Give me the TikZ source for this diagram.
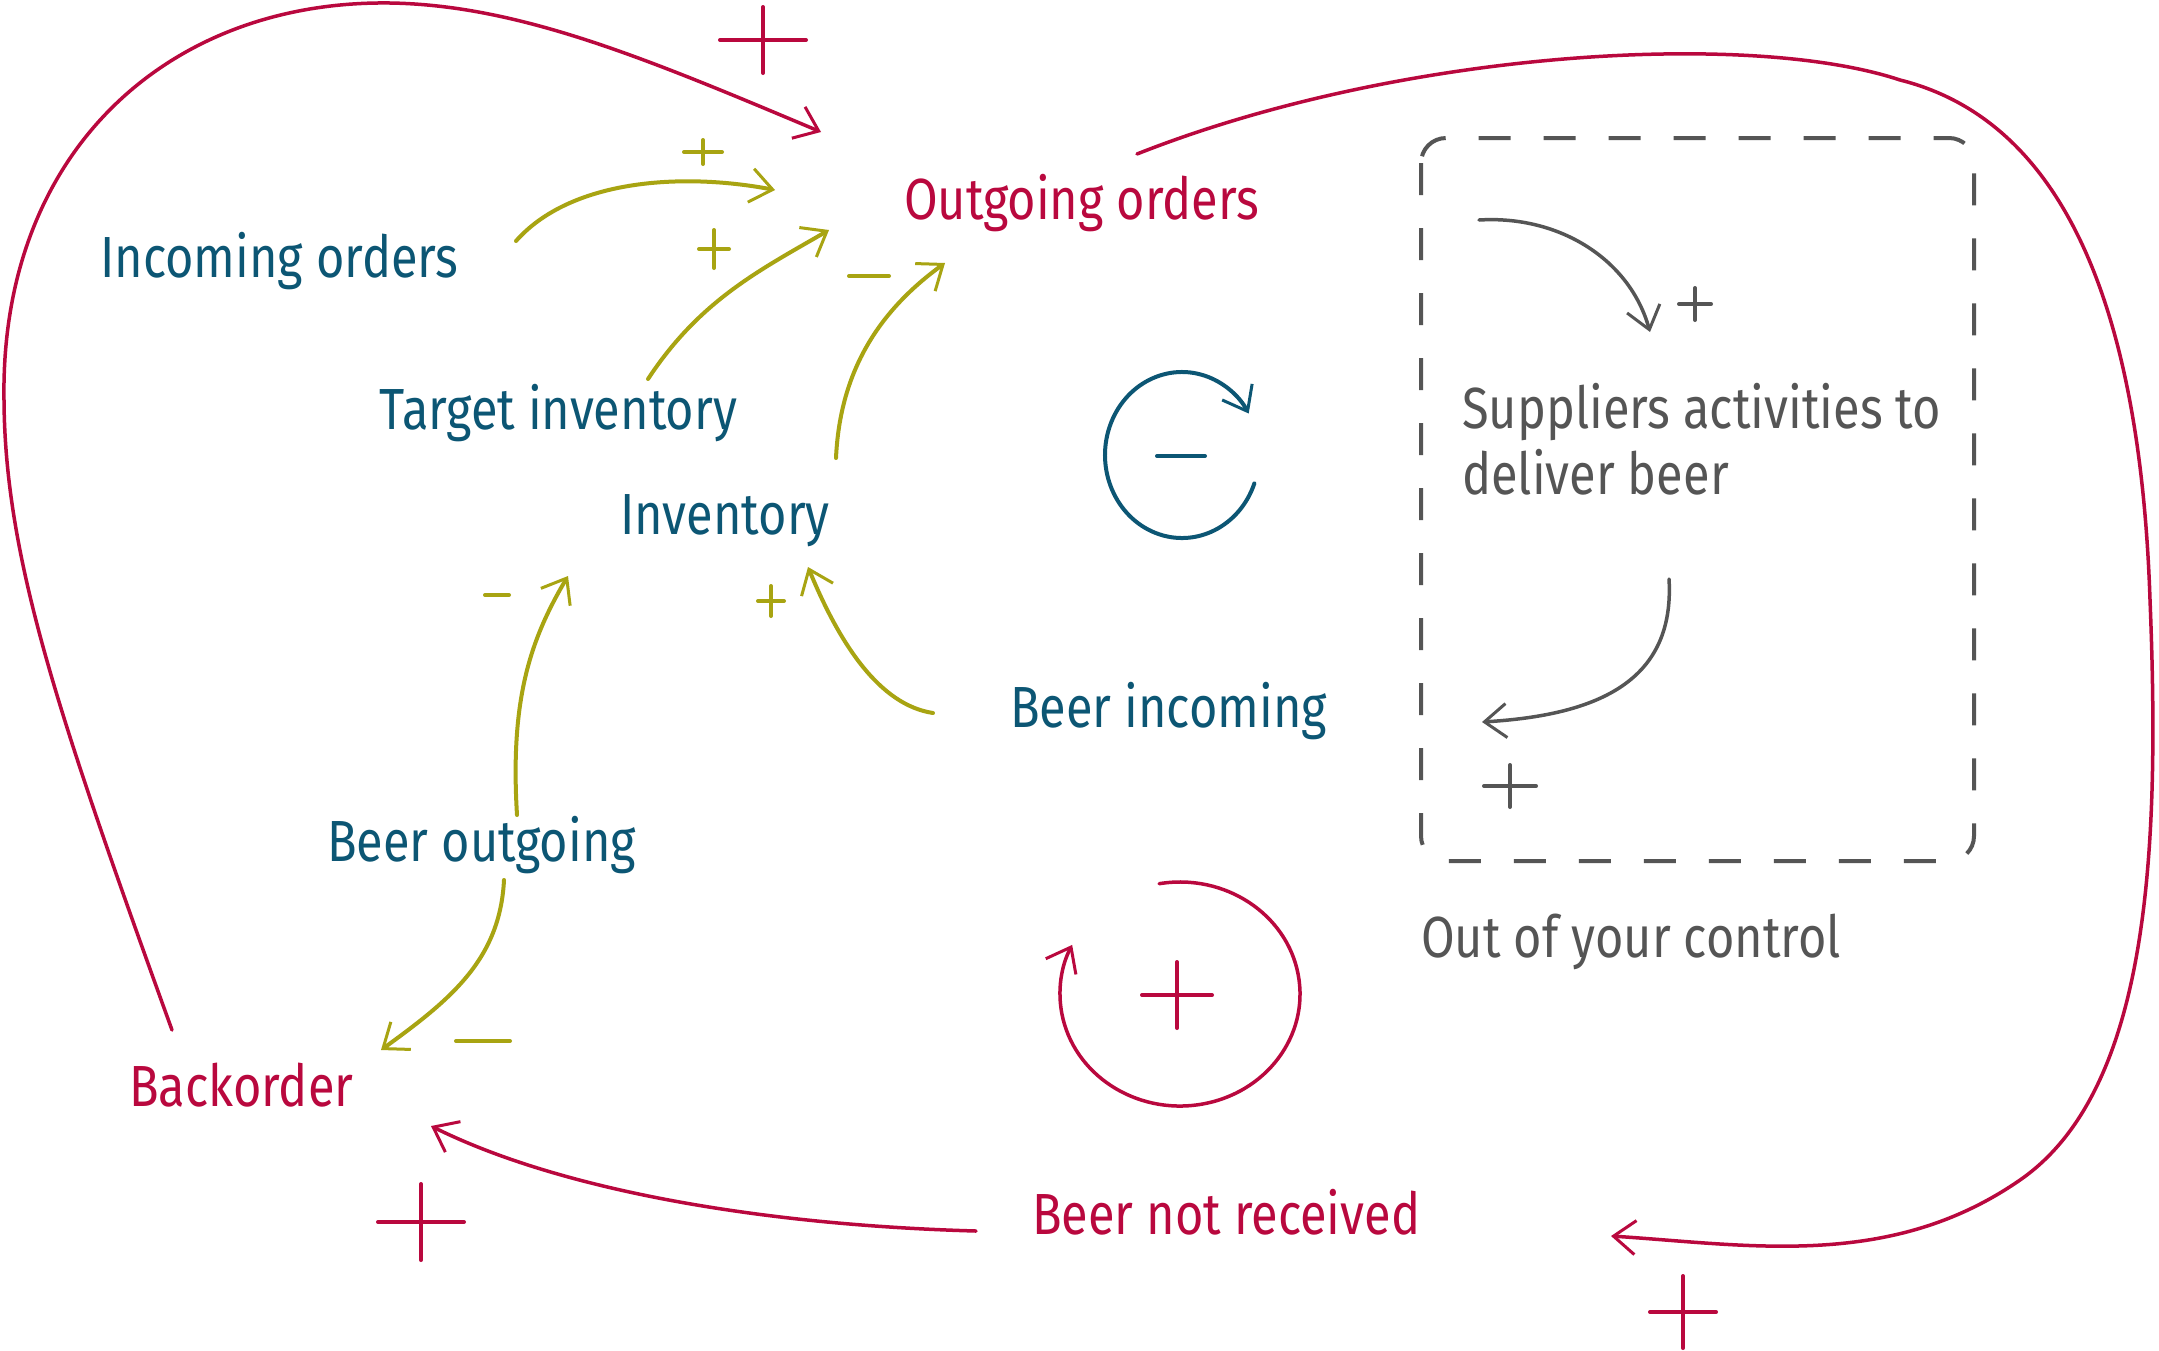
\documentclass[tikz,border=0pt]{standalone}
\usepackage{fontspec}
\setmainfont{Fira Sans}[FakeStretch=0.84]
\usetikzlibrary{arrows.meta}
\definecolor{cred}{RGB}{185,8,62}
\definecolor{cteal}{RGB}{12,86,116}
\definecolor{colive}{RGB}{168,164,18}
\definecolor{cgray}{RGB}{85,85,85}
\tikzset{
  lbl/.style={anchor=base west, inner sep=0pt, font=\fontsize{58}{70}\selectfont},
  redlbl/.style={lbl, text=cred},
  teallbl/.style={lbl, text=cteal},
  graylbl/.style={lbl, text=cgray, align=left},
  barb/.style={-{Straight Barb[length=22pt,width=34pt,line width=3pt]}},
  redlink/.style={draw=cred, line width=3.5pt, line cap=round, barb},
  olivelink/.style={draw=colive, line width=4pt, line cap=round, barb},
  graylink/.style={draw=cgray, line width=3.5pt, line cap=round, barb},
  teallink/.style={draw=cteal, line width=4pt, line cap=round, barb},
  signmark/.pic={\draw[line width=4pt, line cap=round] (-1,0) -- (1,0) (0,-1) -- (0,1);},
  minusmark/.pic={\draw[line width=4pt, line cap=round] (-1,0) -- (1,0);},
}
\begin{document}
\begin{tikzpicture}[x=1pt,y=-1pt]
\fill[white] (0,0) rectangle (2159,1350);
\useasboundingbox (0,0) rectangle (2159,1350);

% labels
\node[teallbl] (inc) at (100,277) {Incoming orders};
\node[redlbl]  (out) at (904,219) {Outgoing orders};
\node[teallbl] (tgt) at (379,429) {Target inventory};
\node[teallbl] (inv) at (620,534) {Inventory};
\node[teallbl] (bin) at (1010,727) {Beer incoming};
\node[teallbl] (bout) at (327,861) {Beer outgoing};
\node[redlbl]  (bo) at (129,1106) {Backorder};
\node[redlbl]  (bnr) at (1032,1234) {Beer not received};
\node[graylbl] (sup) at (1462,428) {Suppliers activities to};
\node[graylbl] (sup2) at (1462,494) {deliver beer};
\node[graylbl] (ctl) at (1421,957) {Out of your control};

% dashed box
\draw[cgray, line width=4pt, dash pattern=on 32pt off 33pt, rounded corners=25pt]
  (1421,138) rectangle (1974,861);

% connector end points
\coordinate (boS) at (172,1030);
\coordinate (outW) at (821,132);
\coordinate (outE) at (1137,154);
\coordinate (bnrE) at (1611,1236);
\coordinate (bnrW) at (976,1231);
\coordinate (boE) at (431,1126);
\coordinate (incE) at (516,241);
\coordinate (outA) at (775,190);
\coordinate (tgtE) at (648,379);
\coordinate (outB) at (829,230);
\coordinate (invN) at (836,458);
\coordinate (outC) at (945,263);
\coordinate (boutN) at (517,815);
\coordinate (invA) at (568,576);
\coordinate (binW) at (933,713);
\coordinate (invB) at (808,567);
\coordinate (boutS) at (504,880);
\coordinate (boN) at (381,1050);
\coordinate (supA) at (1479,220);
\coordinate (supB) at (1650,332);
\coordinate (supC) at (1669,579);
\coordinate (supD) at (1482,722);
\coordinate (ploop) at (1180,994);
\coordinate (mloop) at (1182,455);

% red links
\draw[redlink] (boS) .. controls (60,720) and (5,560) .. (4,400)
  .. controls (0,150) and (170,0) .. (390,3)
  .. controls (520,5) and (650,60) .. (outW);
\draw[redlink] (outE) .. controls (1400,50) and (1750,30) .. (1900,80)
  .. controls (2060,120) and (2140,300) .. (2150,600)
  .. controls (2160,850) and (2150,1090) .. (2020,1180)
  .. controls (1890,1270) and (1750,1245) .. (bnrE);
\draw[redlink] (bnrW) .. controls (760,1225) and (560,1190) .. (boE);
\draw[redlink] ([shift={(260:120 and 112)}]ploop) arc[start angle=260, end angle=566, x radius=120, y radius=112];

% teal loop
\draw[teallink] ([shift={(20:77 and 83)}]mloop) arc[start angle=20, end angle=330, x radius=77, y radius=83];

% olive links
\draw[olivelink] (incE) .. controls (570,180) and (680,172) .. (outA);
\draw[olivelink] (tgtE) .. controls (700,300) and (760,270) .. (outB);
\draw[olivelink] (invN) .. controls (840,370) and (880,310) .. (outC);
\draw[olivelink] (boutN) .. controls (510,700) and (530,640) .. (invA);
\draw[olivelink] (binW) .. controls (880,705) and (840,645) .. (invB);
\draw[olivelink] (boutS) .. controls (500,960) and (450,1000) .. (boN);

% gray links
\draw[graylink] (supA) .. controls (1560,215) and (1630,260) .. (supB);
\draw[graylink] (supC) .. controls (1675,680) and (1600,715) .. (supD);

% polarity signs
\pic[color=cred, xscale=43, yscale=33] at (763,40) {signmark};
\pic[color=cred, xscale=33, yscale=36] at (1683,1312) {signmark};
\pic[color=cred, xscale=43, yscale=38] at (421,1222) {signmark};
\pic[color=cred, xscale=35, yscale=33] at (1177,995) {signmark};
\pic[color=cteal, xscale=24] at (1181,456) {minusmark};
\pic[color=colive, xscale=19, yscale=12] at (703,152) {signmark};
\pic[color=colive, xscale=15, yscale=19] at (714,249) {signmark};
\pic[color=colive, xscale=20] at (869,276) {minusmark};
\pic[color=colive, xscale=12] at (497,595) {minusmark};
\pic[color=colive, xscale=13, yscale=15] at (771,601) {signmark};
\pic[color=colive, xscale=27] at (483,1041) {minusmark};
\pic[color=cgray, xscale=16, yscale=16] at (1695,304) {signmark};
\pic[color=cgray, xscale=26, yscale=21] at (1510,786) {signmark};
\end{tikzpicture}
\end{document}
